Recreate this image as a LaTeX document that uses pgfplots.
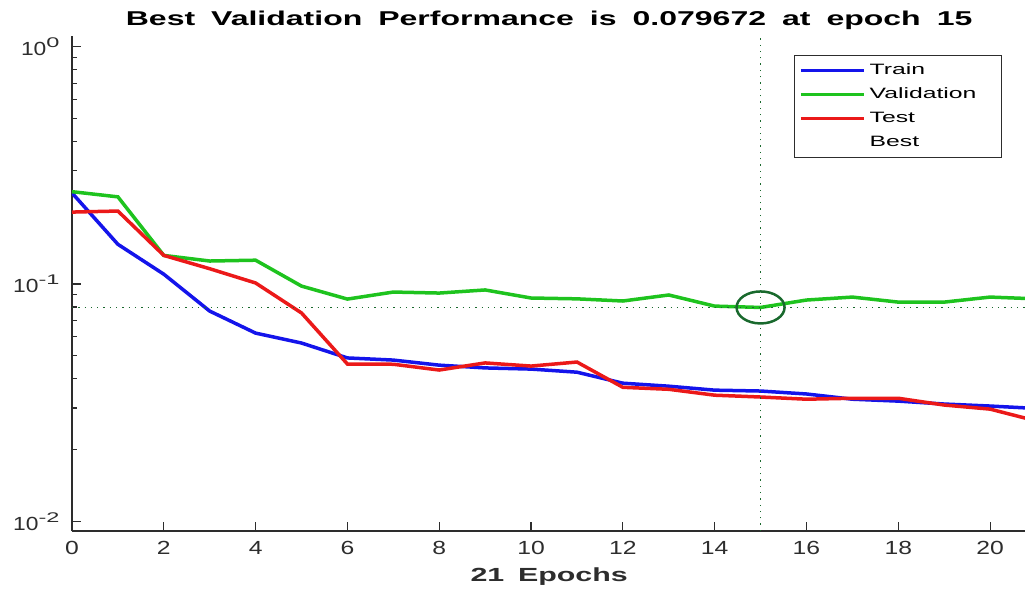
\documentclass[border=0pt]{standalone}
\usepackage{pgfplots}
\pgfplotsset{compat=1.18}
\usepackage{fontspec}
\setmainfont{Liberation Sans}

\definecolor{trainc}{RGB}{20,20,235}
\definecolor{valc}{RGB}{30,195,30}
\definecolor{testc}{RGB}{235,25,25}
\definecolor{bestc}{RGB}{25,105,45}
\definecolor{axc}{RGB}{45,45,45}

\newcommand{\hs}[2]{\scalebox{#1}[1]{#2}}
\newcommand{\pw}[1]{\hs{1.2}{10\raisebox{0.42em}{\fontsize{14}{14}\selectfont\hs{1.4}{#1}}}}

\begin{document}
\begin{tikzpicture}
\useasboundingbox (-72pt,-65pt) rectangle (953pt,531pt);
\clip (-72pt,-65pt) rectangle (953pt,531pt);
\begin{axis}[
  at={(0pt,0pt)}, anchor=south west,
  scale only axis, width=964pt, height=495pt,
  xmin=0, xmax=21, ymode=log, ymin=0.0091, ymax=1.11,
  axis x line*=bottom, axis y line*=left,
  axis line style={axc, line width=1.5pt},
  tick style={axc, line width=1.2pt},
  major tick length=9pt, minor tick length=5pt,
  tick align=inside,
  xtick={0,2,...,20},
  xticklabels={\hs{1.3}{0},\hs{1.3}{2},\hs{1.3}{4},\hs{1.3}{6},\hs{1.3}{8},\hs{1.3}{10},\hs{1.3}{12},\hs{1.3}{14},\hs{1.3}{16},\hs{1.3}{18},\hs{1.3}{20}},
  ytick={0.01,0.1,1},
  yticklabels={\pw{-2},\pw{-1},\pw{0}},
  ticklabel style={font=\fontsize{19}{22}\selectfont, text=axc},
  xticklabel style={yshift=-7pt},
  yticklabel style={xshift=-9pt},
  title={\hs{1.6}{\spaceskip=0.5em Best Validation Performance is 0.079672 at epoch 15}},
  title style={font=\fontsize{20}{24}\selectfont\bfseries, at={(axis description cs:0.495,1)}, anchor=base, yshift=4pt},
  xlabel={\hs{1.6}{\spaceskip=0.45em 21 Epochs}},
  xlabel style={font=\fontsize{19}{22}\selectfont\bfseries, text=axc, at={(axis description cs:0.495,0)}, anchor=base, yshift=-50pt},
  legend style={at={(0.9647,0.9616)}, anchor=north east, draw=axc, line width=1pt,
    font=\fontsize{15}{18}\selectfont, inner xsep=5pt, inner ysep=5pt, row sep=4pt,
    nodes={text height=12pt, text depth=4pt, inner ysep=2pt, inner xsep=4pt}},
  legend cell align=left,
  legend image code/.code={\draw[#1] (0pt,0pt) -- (63pt,0pt);},
]
\addplot[trainc, line width=3.5pt] coordinates {
 (0,0.242) (1,0.147) (2,0.110) (3,0.0769) (4,0.0621) (5,0.0564) (6,0.0488) (7,0.0478)
 (8,0.0455) (9,0.0443) (10,0.0438) (11,0.0425) (12,0.0382) (13,0.0371) (14,0.0357)
 (15,0.0354) (16,0.0344) (17,0.0327) (18,0.0321) (19,0.0312) (20,0.0306) (21,0.0299)};
\addlegendentry{\hs{1.65}{Train}}
\addplot[valc, line width=3.5pt] coordinates {
 (0,0.245) (1,0.233) (2,0.132) (3,0.125) (4,0.126) (5,0.098) (6,0.0864) (7,0.0925)
 (8,0.0916) (9,0.0944) (10,0.0873) (11,0.0866) (12,0.0848) (13,0.0899) (14,0.0807)
 (15,0.079672) (16,0.0856) (17,0.0881) (18,0.0839) (19,0.0839) (20,0.0881) (21,0.0866)};
\addlegendentry{\hs{1.65}{Validation}\rule{16pt}{0pt}}
\addplot[testc, line width=3.5pt] coordinates {
 (0,0.201) (1,0.203) (2,0.132) (3,0.116) (4,0.101) (5,0.0755) (6,0.0460) (7,0.0459)
 (8,0.0434) (9,0.0465) (10,0.0451) (11,0.0469) (12,0.0367) (13,0.0360) (14,0.0340)
 (15,0.0334) (16,0.0327) (17,0.0330) (18,0.0330) (19,0.0309) (20,0.0297) (21,0.0265)};
\addlegendentry{\hs{1.65}{Test}}
\addlegendimage{draw opacity=0, line width=0pt}
\addlegendentry{\hs{1.65}{Best}}
\addplot[forget plot, bestc, line width=1.3pt, dash pattern=on 1.3pt off 5pt] coordinates {(0,0.079672) (21,0.079672)};
\addplot[forget plot, bestc, line width=1.3pt, dash pattern=on 1.3pt off 5pt] coordinates {(15,0.0091) (15,1.11)};
\addplot[forget plot, only marks, mark=o, mark size=16pt, mark options={xscale=1.5, line width=2.5pt, draw=bestc}] coordinates {(15,0.079672)};
\end{axis}
\end{tikzpicture}
\end{document}
